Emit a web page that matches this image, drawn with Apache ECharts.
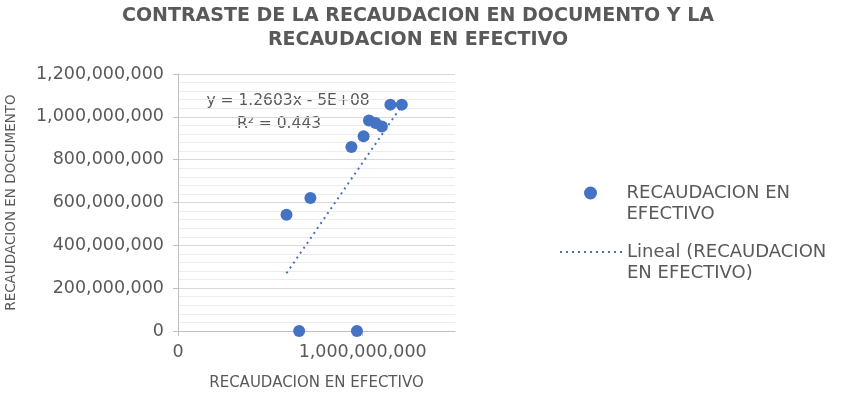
<!DOCTYPE html>
<html>
<head>
<meta charset="utf-8">
<script src="https://cdn.jsdelivr.net/npm/echarts@6/dist/echarts.min.js"></script>
<style>
  html, body { margin: 0; padding: 0; background: #fff; }
  #chart { width: 852px; height: 400px; }
</style>
</head>
<body>
<div id="chart"></div>
<script>
// recaudacion en efectivo (x) vs recaudacion en documento (y)
var efectivo  = [587500000, 717000000, 939000000, 1005000000, 1034000000, 1070000000, 1104000000, 1150000000, 1212000000, 656000000, 969000000];
var documento = [543000000, 621000000, 859000000, 909000000, 983000000, 971000000, 955000000, 1057000000, 1057000000, 0, 0];
var yTicks = [0, 200000000, 400000000, 600000000, 800000000, 1000000000, 1200000000];
var xTicks = [0, 1000000000];

var serieName = 'RECAUDACION EN EFECTIVO';
var trendName = 'Lineal (RECAUDACION EN EFECTIVO)';
var gris = '#595959';
var azul = '#4472C4';
var fuente = 'DejaVu Sans';

// linea de tendencia por minimos cuadrados
function tendencia(xs, ys) {
    var n = xs.length, sx = 0, sy = 0;
    for (var i = 0; i < n; i++) { sx += xs[i]; sy += ys[i]; }
    var mx = sx / n, my = sy / n, sxy = 0, sxx = 0;
    for (var i = 0; i < n; i++) {
        sxy += (xs[i] - mx) * (ys[i] - my);
        sxx += (xs[i] - mx) * (xs[i] - mx);
    }
    var m = sxy / sxx;
    var b = my - m * mx;
    var xmin = Math.min.apply(null, xs), xmax = Math.max.apply(null, xs);
    return [[xmin, m * xmin + b], [xmax, m * xmax + b]];
}

var puntos = efectivo.map(function (x, i) { return [x, documento[i]]; });
var linea = tendencia(efectivo, documento);

function fmt(v) { return Number(v).toLocaleString('en-US'); }

var chart = echarts.init(document.getElementById('chart'));
var option = {
    animation: false,
    backgroundColor: '#fff',
    title: {
        text: 'CONTRASTE DE LA RECAUDACION EN DOCUMENTO Y LA\nRECAUDACION EN EFECTIVO',
        left: 413,
        textAlign: 'center',
        top: -1,
        textStyle: {
            fontFamily: fuente,
            fontWeight: 'bold',
            fontSize: 19,
            lineHeight: 24,
            color: gris
        }
    },
    grid: { left: 178, right: 397, top: 74, bottom: 69 },
    xAxis: {
        type: 'value',
        min: 0,
        max: 1500000000,
        interval: 1000000000,
        name: 'RECAUDACION EN EFECTIVO',
        nameLocation: 'middle',
        nameGap: 45,
        nameTextStyle: { fontFamily: fuente, fontSize: 15, color: gris },
        axisLine: { show: true, lineStyle: { color: '#bfbfbf' } },
        axisTick: { show: true, length: 5, lineStyle: { color: '#bfbfbf' } },
        axisLabel: {
            fontFamily: fuente, fontSize: 17.5, color: gris, margin: 12,
            showMaxLabel: false,
            formatter: function (v) { return xTicks.indexOf(v) >= 0 ? fmt(v) : ''; }
        },
        splitLine: { show: false }
    },
    yAxis: {
        type: 'value',
        min: 0,
        max: 1200000000,
        interval: 200000000,
        name: 'RECAUDACION EN DOCUMENTO',
        nameLocation: 'middle',
        nameGap: 160,
        nameTextStyle: { fontFamily: fuente, fontSize: 13.5, color: gris },
        axisLine: { show: true, lineStyle: { color: '#bfbfbf' } },
        axisTick: { show: true, length: 5, lineStyle: { color: '#bfbfbf' } },
        axisLabel: {
            fontFamily: fuente, fontSize: 17.5, color: gris, margin: 14,
            formatter: function (v) { return yTicks.indexOf(v) >= 0 ? fmt(v) : ''; }
        },
        splitLine: { show: true, lineStyle: { color: '#d9d9d9', width: 1 } },
        minorTick: { show: false, splitNumber: 5 },
        minorSplitLine: { show: true, lineStyle: { color: '#ececec', width: 1 } }
    },
    legend: [{
        data: [serieName],
        orient: 'vertical',
        left: 584,
        top: 161.5,
        padding: 0,
        itemWidth: 62,
        itemHeight: 13,
        icon: 'circle',
        formatter: function () { return ' \nRECAUDACION EN\nEFECTIVO'; },
        textStyle: { fontFamily: fuente, fontSize: 18, color: gris, lineHeight: 21 }
    }, {
        data: [trendName],
        orient: 'vertical',
        left: 559,
        top: 220.5,
        padding: 0,
        itemWidth: 62,
        itemHeight: 4,
        itemStyle: { opacity: 0 },
        lineStyle: { color: azul, width: 2, type: [2, 4] },
        formatter: function () { return ' \nLineal (RECAUDACION\nEN EFECTIVO)'; },
        textStyle: { fontFamily: fuente, fontSize: 18, color: gris, lineHeight: 21 }
    }],
    graphic: [{
        type: 'text',
        x: 288,
        y: 101,
        style: { text: 'y = 1.2603x - 5E+08', fill: gris, font: '15.5px "DejaVu Sans"', align: 'center', verticalAlign: 'middle' }
    }, {
        type: 'text',
        x: 279,
        y: 124,
        style: { text: 'R² = 0.443', fill: gris, font: '15.5px "DejaVu Sans"', align: 'center', verticalAlign: 'middle' }
    }],
    series: [{
        name: trendName,
        type: 'line',
        data: linea,
        symbol: 'none',
        silent: true,
        z: 1,
        itemStyle: { color: azul },
        lineStyle: { color: azul, width: 2, type: [2, 4] }
    }, {
        name: serieName,
        type: 'scatter',
        data: puntos,
        symbolSize: 12,
        z: 3,
        itemStyle: { color: azul, opacity: 1 }
    }]
};
chart.setOption(option);
</script>
</body>
</html>
